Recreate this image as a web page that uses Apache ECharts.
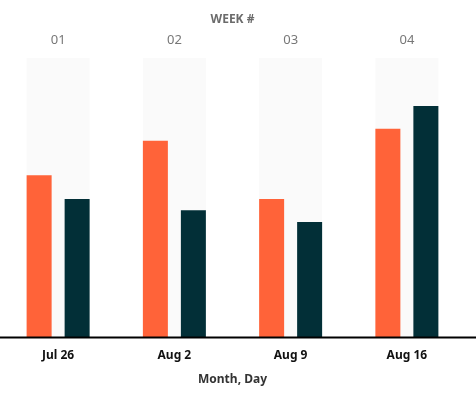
<!DOCTYPE html>
<html>
<head>
<meta charset="utf-8">
<script src="https://cdn.jsdelivr.net/npm/echarts@6/dist/echarts.min.js"></script>
<style>
  html, body { margin: 0; padding: 0; background: #fff; }
  #main { width: 476px; height: 398px; }
</style>
</head>
<body>
<div id="main"></div>
<script>
var days = ['Jul 26', 'Aug 2', 'Aug 9', 'Aug 16'];
var weeks = ['01', '02', '03', '04'];
var seriesA = [58, 70.3, 49.5, 74.6];
var seriesB = [49.5, 45.4, 41.2, 82.8];
var backdrop = [100, 100, 100, 100];

var chart = echarts.init(document.getElementById('main'));
var font = '"Noto Sans", "Open Sans", sans-serif';

var option = {
  animation: false,
  grid: { left: 0, right: 11, top: 58, bottom: 61, containLabel: false },
  xAxis: [
    {
      type: 'category',
      data: days,
      position: 'bottom',
      axisLine: { show: false },
      axisTick: { show: false },
      axisLabel: { color: '#111', fontWeight: 'bold', fontSize: 12, margin: 13, fontFamily: font },
      name: 'Month, Day',
      nameLocation: 'middle',
      nameGap: 37,
      nameTextStyle: { color: '#333', fontWeight: 'bold', fontSize: 12, fontFamily: font }
    },
    {
      type: 'category',
      data: weeks,
      position: 'top',
      axisLine: { show: false },
      axisTick: { show: false },
      axisLabel: { color: '#777', fontSize: 13, margin: 11, fontFamily: font },
      name: 'WEEK #',
      nameLocation: 'middle',
      nameGap: 32,
      nameTextStyle: { color: '#6b6b6b', fontWeight: 'bold', fontSize: 12, fontFamily: font }
    }
  ],
  yAxis: {
    type: 'value',
    min: 0,
    max: 100,
    show: false
  },
  graphic: [{
    type: 'line',
    z: 100,
    shape: { x1: 0, y1: 337.5, x2: 476, y2: 337.5 },
    style: { stroke: '#000', lineWidth: 2 }
  }],
  series: [
    {
      type: 'bar',
      xAxisIndex: 1,
      data: backdrop,
      barWidth: 63,
      silent: true,
      itemStyle: { color: '#fafafa' }
    },
    {
      type: 'bar',
      xAxisIndex: 0,
      data: seriesA,
      barWidth: 25,
      barGap: '52%',
      itemStyle: { color: '#ff6339' }
    },
    {
      type: 'bar',
      xAxisIndex: 0,
      data: seriesB,
      barWidth: 25,
      barGap: '52%',
      itemStyle: { color: '#022f37' }
    }
  ]
};

chart.setOption(option);
</script>
</body>
</html>
